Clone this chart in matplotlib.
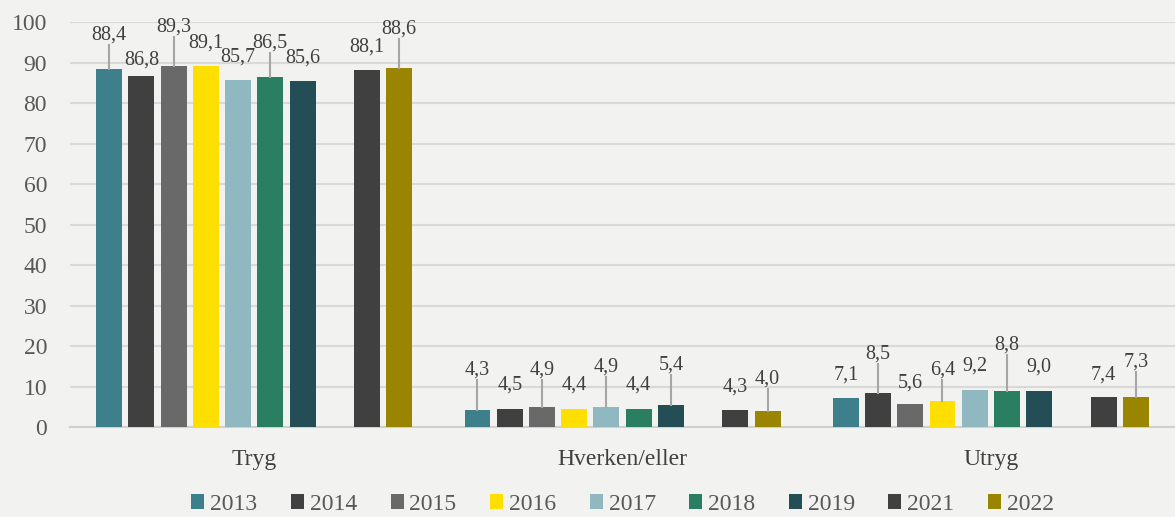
import numpy as np
import matplotlib.pyplot as plt

plt.rcParams.update({
    "font.family": ["Liberation Serif", "DejaVu Serif"],
    "font.size": 16,
})

categories = ["Tryg", "Hverken/eller", "Utryg"]
years = ["2013", "2014", "2015", "2016", "2017", "2018", "2019", "2021", "2022"]
slots = [0, 1, 2, 3, 4, 5, 6, 8, 9]  # 2020 mangler

v2013 = [88.4, 4.3, 7.1]
v2014 = [86.8, 4.5, 8.5]
v2015 = [89.3, 4.9, 5.6]
v2016 = [89.1, 4.4, 6.4]
v2017 = [85.7, 4.9, 9.2]
v2018 = [86.5, 4.4, 8.8]
v2019 = [85.6, 5.4, 9.0]
v2021 = [88.1, 4.3, 7.4]
v2022 = [88.6, 4.0, 7.3]
series = [v2013, v2014, v2015, v2016, v2017, v2018, v2019, v2021, v2022]

colors = ["#3D7F8A", "#404040", "#696969", "#FFDF00", "#8FB8C0",
          "#2A7F62", "#244E55", "#404040", "#9A8500"]

# hvor hoyt etiketten sitter over stolpen (y-enheter), per kategori
lift = [
    [8.4, 3.8, 9.5, 5.7, 5.7, 8.3, 5.5, 5.7, 9.7],
    [9.8, 5.9, 9.2, 6.0, 9.9, 6.0, 9.9, 5.6, 7.9],
    [5.7, 9.5, 5.3, 7.7, 5.9, 11.4, 5.8, 5.4, 8.7],
]

bg = "#F2F2F0"
fig = plt.figure(figsize=(11.75, 5.17), dpi=100, facecolor=bg)
ax = fig.add_axes([0.0596, 0.174, 0.9404, 0.783], facecolor=bg)

step = 0.0875
width = 0.0705
x = np.arange(len(categories))
for i, (yr, vals, col) in enumerate(zip(years, series, colors)):
    pos = x + (slots[i] - 4.5) * step
    ax.bar(pos, vals, width=width, color=col, label=yr, zorder=3)
    for j, v in enumerate(vals):
        ly = v + lift[j][i]
        ax.text(pos[j], ly, f"{v:.1f}".replace(".", ","), ha="center", va="center",
                fontsize=14.5, color="#404040", zorder=5)
        if lift[j][i] > 7:
            ax.plot([pos[j], pos[j]], [ly - 2.4, v], color="#A6A6A6", lw=1.5, zorder=4)

ax.set_xlim(-0.5, 2.5)
ax.set_ylim(0, 100)
ax.set_yticks(range(0, 101, 10))
ax.yaxis.grid(True, color="#D9D9D9", lw=1.5, zorder=0)
ax.set_xticks(x)
ax.set_xticklabels(categories, fontsize=17, color="#404040")
ax.tick_params(axis="x", length=0, pad=16)
ax.tick_params(axis="y", length=0, labelsize=17, labelcolor="#595959", pad=16.5)
for s in ["top", "right", "left"]:
    ax.spines[s].set_visible(False)
ax.spines["bottom"].set_color("#D0D0D0")
ax.spines["bottom"].set_linewidth(1.5)

ax.legend(loc="center", bbox_to_anchor=(0.5, -0.192), ncol=9, frameon=False,
          fontsize=17, handlelength=0.55, handleheight=0.6, handletextpad=0.25,
          columnspacing=1.42, labelcolor="#595959")

fig.savefig("out.png", dpi=100, facecolor=bg)
